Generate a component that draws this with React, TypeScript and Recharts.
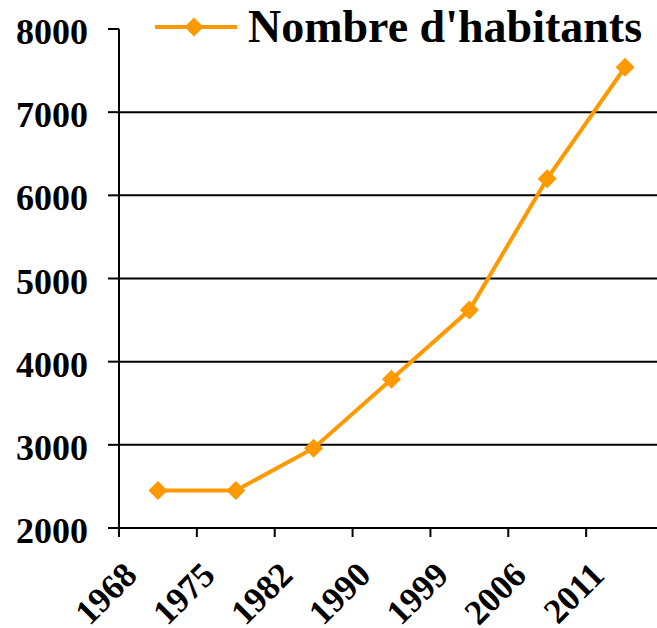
import React from 'react';
import { LineChart, Line, XAxis, YAxis, ReferenceLine, Legend } from 'recharts';

const years = ['1968', '1975', '1982', '1990', '1999', '2006', '2011'];
const habitants = [2450, 2450, 2960, 3790, 4620, 6200, 7540];
const yTicks = [2000, 3000, 4000, 5000, 6000, 7000, 8000];
const gridValues = [3000, 4000, 5000, 6000, 7000];
const seriesName = "Nombre d'habitants";

const data = years.map((y, i) => ({ year: y, value: habitants[i] }));

const ORANGE = '#FF9900';
const FONT = '"Liberation Serif", "Times New Roman", serif';

const Diamond = (props: any) => {
  const { cx, cy } = props;
  if (cx == null || cy == null) return null;
  const h = 9.5;
  return (
    <polygon
      points={`${cx},${cy - h} ${cx + h},${cy} ${cx},${cy + h} ${cx - h},${cy}`}
      fill={ORANGE}
      stroke="none"
    />
  );
};

const YTick = (props: any) => {
  const { x, y, payload } = props;
  return (
    <text x={x} y={y} dy="0.42em" textAnchor="end" fontFamily={FONT} fontWeight="bold" fontSize={36} fill="#000">
      {payload.value}
    </text>
  );
};

const XTick = (props: any) => {
  const { x, y, payload } = props;
  const off = payload && typeof payload.offset === 'number' && payload.offset > 0 ? payload.offset : 39;
  const lx = x - off;
  const tx = x - 19;
  const ty = y + 49;
  return (
    <g>
      <line x1={lx} y1={y} x2={lx} y2={y + 9} stroke="#000" strokeWidth={2} />
      <text
        x={tx}
        y={ty}
        textAnchor="end"
        transform={`rotate(-45, ${tx}, ${ty})`}
        fontFamily={FONT}
        fontWeight="bold"
        fontSize={35}
        fill="#000"
      >
        {payload.value}
      </text>
    </g>
  );
};

const LegendContent = () => (
  <div style={{ display: 'flex', alignItems: 'center', whiteSpace: 'nowrap' }}>
    <svg width={98} height={46} style={{ display: 'block' }}>
      <line x1={5} y1={23} x2={87} y2={23} stroke={ORANGE} strokeWidth={4} />
      <polygon points="44,13.5 53.5,23 44,32.5 34.5,23" fill={ORANGE} />
    </svg>
    <span style={{ fontFamily: FONT, fontWeight: 'bold', fontSize: 46, color: '#000', lineHeight: '46px' }}>
      {seriesName}
    </span>
  </div>
);

export default function App() {
  return (
    <div style={{ position: 'absolute', left: 0, top: 0, width: 657, height: 628, overflow: 'hidden', background: '#fff' }}>
      <LineChart width={664} height={628} data={data} margin={{ top: 29, right: 0, bottom: 0, left: 0 }}>
        {gridValues.map((v) => (
          <ReferenceLine key={v} y={v} stroke="#000" strokeWidth={2} ifOverflow="extendDomain" />
        ))}
        <XAxis
          dataKey="year"
          scale="band"
          height={100}
          axisLine={{ stroke: '#000', strokeWidth: 2 }}
          tickLine={false}
          tickSize={0}
          tickMargin={0}
          interval={0}
          tick={<XTick />}
        />
        <YAxis
          width={119}
          domain={[2000, 8000]}
          ticks={yTicks}
          interval={0}
          axisLine={{ stroke: '#000', strokeWidth: 2 }}
          tickLine={{ stroke: '#000', strokeWidth: 2 }}
          tickSize={11}
          tickMargin={20}
          tick={<YTick />}
        />
        <Legend
          layout="horizontal"
          verticalAlign="middle"
          align="center"
          wrapperStyle={{ top: 4, left: 150, width: 'auto' }}
          content={<LegendContent />}
        />
        <Line
          dataKey="value"
          name={seriesName}
          stroke={ORANGE}
          strokeWidth={4}
          dot={<Diamond />}
          activeDot={false}
          isAnimationActive={false}
        />
      </LineChart>
    </div>
  );
}
